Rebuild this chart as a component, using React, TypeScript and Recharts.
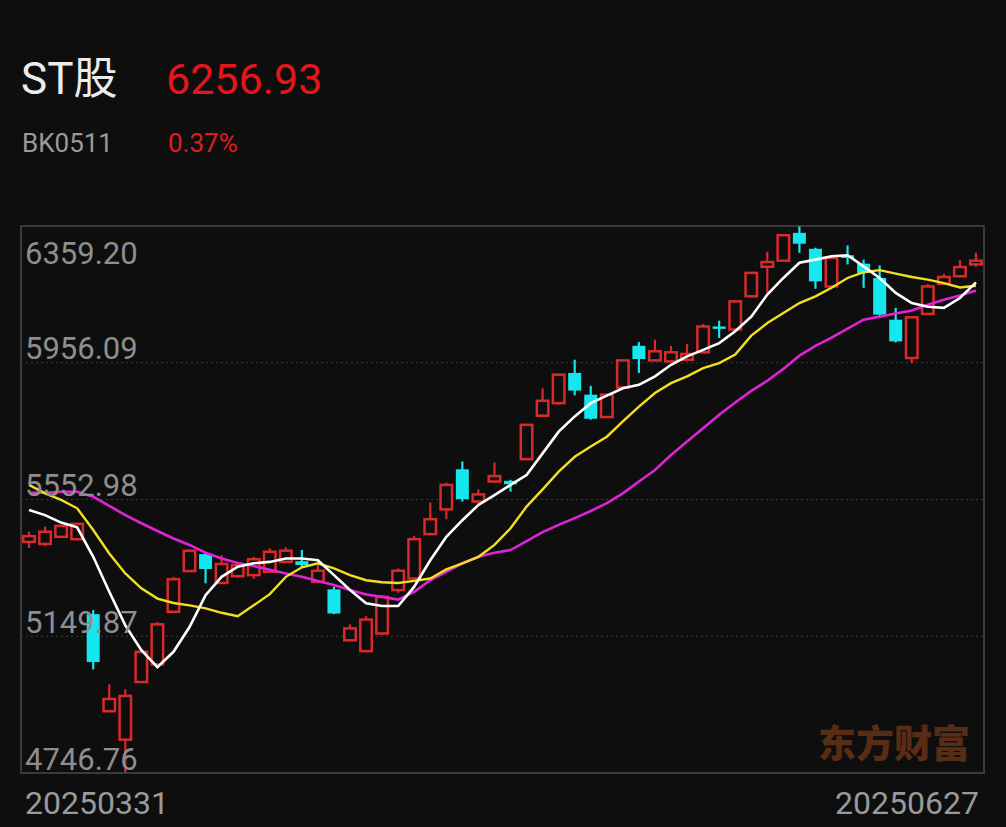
import React from "react";
import {
  Bar,
  CartesianGrid,
  ComposedChart,
  Line,
  ReferenceArea,
  XAxis,
  YAxis,
} from "recharts";

const dates = [
  "20250331", "20250401", "20250402", "20250403", "20250407", "20250408",
  "20250409", "20250410", "20250411", "20250414", "20250415", "20250416",
  "20250417", "20250418", "20250421", "20250422", "20250423", "20250424",
  "20250425", "20250428", "20250429", "20250430", "20250506", "20250507",
  "20250508", "20250509", "20250512", "20250513", "20250514", "20250515",
  "20250516", "20250519", "20250520", "20250521", "20250522", "20250523",
  "20250526", "20250527", "20250528", "20250529", "20250530", "20250603",
  "20250604", "20250605", "20250606", "20250609", "20250610", "20250611",
  "20250612", "20250613", "20250616", "20250617", "20250618", "20250619",
  "20250620", "20250623", "20250624", "20250625", "20250626", "20250627",
];

const opens = [
  5428, 5422, 5443, 5436, 5215, 4929, 4845, 5015, 5067, 5222, 5342, 5392,
  5307, 5327, 5330, 5340, 5369, 5371, 5310, 5288, 5138, 5106, 5158, 5286,
  5320, 5451, 5524, 5642, 5547, 5606, 5608, 5672, 5800, 5837, 5926, 5862,
  5796, 5883, 6006, 5963, 5960, 5965, 5987, 6063, 6054, 6152, 6239, 6257,
  6339, 6292, 6181, 6273, 6248, 6206, 6083, 5970, 6100, 6189, 6211, 6246,
];
const highs = [
  5458, 5473, 5478, 5484, 5227, 5008, 4993, 5108, 5192, 5325, 5405, 5398,
  5389, 5363, 5384, 5409, 5412, 5404, 5360, 5296, 5185, 5209, 5270, 5350,
  5445, 5544, 5603, 5665, 5583, 5662, 5611, 5776, 5881, 5924, 5965, 5888,
  5865, 5966, 6017, 6024, 6006, 6011, 6070, 6080, 6140, 6224, 6283, 6335,
  6358, 6295, 6268, 6302, 6260, 6243, 6118, 6093, 6188, 6218, 6258, 6280,
];
const lows = [
  5410, 5416, 5440, 5433, 5052, 4925, 4749, 5012, 5064, 5219, 5339, 5306,
  5305, 5322, 5319, 5337, 5366, 5353, 5307, 5215, 5135, 5103, 5155, 5278,
  5317, 5448, 5495, 5547, 5537, 5603, 5576, 5669, 5797, 5833, 5860, 5788,
  5793, 5880, 5926, 5960, 5957, 5962, 5984, 6029, 6051, 6149, 6162, 6254,
  6280, 6174, 6178, 6246, 6177, 6092, 6016, 5955, 6097, 6186, 6208, 6239,
];
const closes = [
  5445, 5458, 5475, 5481, 5074, 4965, 4974, 5104, 5185, 5318, 5402, 5348,
  5363, 5360, 5377, 5399, 5402, 5360, 5343, 5217, 5173, 5199, 5266, 5343,
  5436, 5495, 5596, 5554, 5568, 5622, 5598, 5773, 5844, 5921, 5874, 5791,
  5862, 5963, 5967, 5990, 5987, 5982, 6063, 6056, 6137, 6221, 6253, 6332,
  6307, 6196, 6265, 6265, 6221, 6098, 6019, 6090, 6181, 6209, 6238, 6256.93,
];

const ma5 = [
  5522, 5507, 5485, 5471, 5384, 5281, 5182, 5109, 5059, 5104, 5177, 5271,
  5325, 5355, 5365, 5369, 5379, 5379, 5374, 5330, 5286, 5247, 5239, 5239,
  5296, 5374, 5443, 5492, 5537, 5566, 5596, 5625, 5689, 5753, 5798, 5837,
  5859, 5881, 5891, 5916, 5950, 5975, 5994, 6014, 6049, 6092, 6157, 6206,
  6251, 6260, 6270, 6273, 6240, 6206, 6162, 6132, 6121, 6118, 6147, 6193,
];
const ma10 = [
  5596, 5571, 5552, 5527, 5463, 5394, 5335, 5291, 5261, 5248, 5241, 5232,
  5219, 5209, 5241, 5274, 5325, 5353, 5365, 5350, 5330, 5315, 5309, 5307,
  5313, 5320, 5347, 5365, 5384, 5419, 5468, 5532, 5583, 5635, 5679, 5709,
  5738, 5783, 5827, 5867, 5896, 5916, 5940, 5955, 5980, 6036, 6073, 6103,
  6132, 6152, 6177, 6206, 6223, 6229, 6219, 6209, 6201, 6191, 6178, 6183,
];
const ma20 = [
  5573, 5573, 5576, 5576, 5561, 5534, 5507, 5483, 5460, 5438, 5419, 5396,
  5379, 5366, 5357, 5346, 5335, 5325, 5313, 5301, 5286, 5273, 5266, 5258,
  5281, 5315, 5340, 5365, 5384, 5396, 5404, 5430, 5457, 5478, 5498, 5519,
  5542, 5571, 5606, 5640, 5684, 5724, 5763, 5803, 5839, 5873, 5903, 5938,
  5977, 6006, 6030, 6057, 6083, 6092, 6101, 6110, 6127, 6142, 6154, 6169,
];

const yTicks = [4746.76, 5149.87, 5552.98, 5956.09, 6359.2];
const xTicks = [dates[0], dates[dates.length - 1]];

const BG = "#0e0e0e";
const UP = "#d82a2b";
const DOWN = "#14e8ee";
const FONT = "Roboto, 'Noto Sans CJK SC', sans-serif";

const data = dates.map((date, i) => ({
  date,
  open: opens[i],
  high: highs[i],
  low: lows[i],
  close: closes[i],
  range: [lows[i], highs[i]],
  ma5: ma5[i],
  ma10: ma10[i],
  ma20: ma20[i],
}));

function Candle(props: any) {
  const { x, y, width, height, payload } = props;
  if (!payload || height == null) return null;
  const { open, close, high, low } = payload;
  const k = height / (high - low || 1);
  const cx = x + width / 2;
  const top = y + (high - Math.max(open, close)) * k;
  const bodyH = Math.max((Math.max(open, close) - Math.min(open, close)) * k, 2);
  if (close >= open) {
    return (
      <g>
        <line x1={cx} x2={cx} y1={y} y2={y + height} stroke={UP} strokeWidth={2.2} />
        <rect x={x + 1.25} y={top} width={width - 2.5} height={bodyH} fill={BG} stroke={UP} strokeWidth={2.5} />
      </g>
    );
  }
  return (
    <g>
      <line x1={cx} x2={cx} y1={y} y2={y + height} stroke={DOWN} strokeWidth={2.2} />
      <rect x={x + 0.5} y={top} width={width - 1} height={bodyH} fill={DOWN} />
    </g>
  );
}

function YTick(props: any) {
  const { y, payload } = props;
  const isTop = payload.value >= yTicks[yTicks.length - 1];
  return (
    <text x={25} y={isTop ? y + 38 : y - 3.5} fill="#8e8e8e" fontSize={31} fontFamily={FONT}>
      {Number(payload.value).toFixed(2)}
    </text>
  );
}

function XTick(props: any) {
  const { x, y, payload } = props;
  const first = payload.value === dates[0];
  return (
    <text
      x={first ? x - 4 : x + 3}
      y={y + 33}
      textAnchor={first ? "start" : "end"}
      fill="#9a9a9a"
      fontSize={32}
      fontFamily={FONT}
    >
      {payload.value}
    </text>
  );
}

export default function App() {
  return (
    <div
      style={{
        position: "absolute",
        left: 0,
        top: 0,
        width: 1006,
        height: 827,
        background: BG,
        overflow: "hidden",
      }}
    >
      <svg width={1006} height={827} style={{ position: "absolute", left: 0, top: 0 }}>
        <text x={21} y={94} fill="#ececec" fontSize={44} fontFamily={FONT}>ST股</text>
        <text x={166} y={94} fill="#e5161b" fontSize={43} fontFamily={FONT}>6256.93</text>
        <text x={22} y={152} fill="#9a9a9a" fontSize={26} fontFamily={FONT}>BK0511</text>
        <text x={168} y={152} fill="#e01c1f" fontSize={26} fontFamily={FONT}>0.37%</text>
        <text x={818} y={757} fill="#582c15" fontSize={38} fontWeight={900} fontFamily="'Noto Sans CJK SC', sans-serif">
          东方财富
        </text>
      </svg>
      <div style={{ position: "absolute", left: 0, top: 0 }}>
        <ComposedChart
          width={1006}
          height={827}
          data={data}
          margin={{ top: 226, right: 22, bottom: 0, left: 21 }}
        >
          <CartesianGrid horizontal vertical={false} stroke="#3c3c3c" strokeDasharray="2 3" />
          <XAxis
            dataKey="date"
            ticks={xTicks}
            interval={0}
            tickLine={false}
            axisLine={false}
            height={54}
            tick={<XTick />}
          />
          <YAxis
            type="number"
            domain={[yTicks[0], yTicks[yTicks.length - 1]]}
            ticks={yTicks}
            allowDataOverflow
            mirror
            tickLine={false}
            axisLine={false}
            tick={<YTick />}
          />
          <ReferenceArea
            y1={yTicks[0]}
            y2={yTicks[yTicks.length - 1]}
            fill="none"
            stroke="#3a3a3a"
            strokeWidth={2}
            ifOverflow="extendDomain"
          />
          <Bar dataKey="range" barSize={14} shape={<Candle />} isAnimationActive={false} />
          <Line type="linear" dataKey="ma20" stroke="#e023d6" strokeWidth={2.6} dot={false} isAnimationActive={false} />
          <Line type="linear" dataKey="ma10" stroke="#f2df22" strokeWidth={2.4} dot={false} isAnimationActive={false} />
          <Line type="linear" dataKey="ma5" stroke="#ffffff" strokeWidth={2.6} dot={false} isAnimationActive={false} />
        </ComposedChart>
      </div>
    </div>
  );
}
